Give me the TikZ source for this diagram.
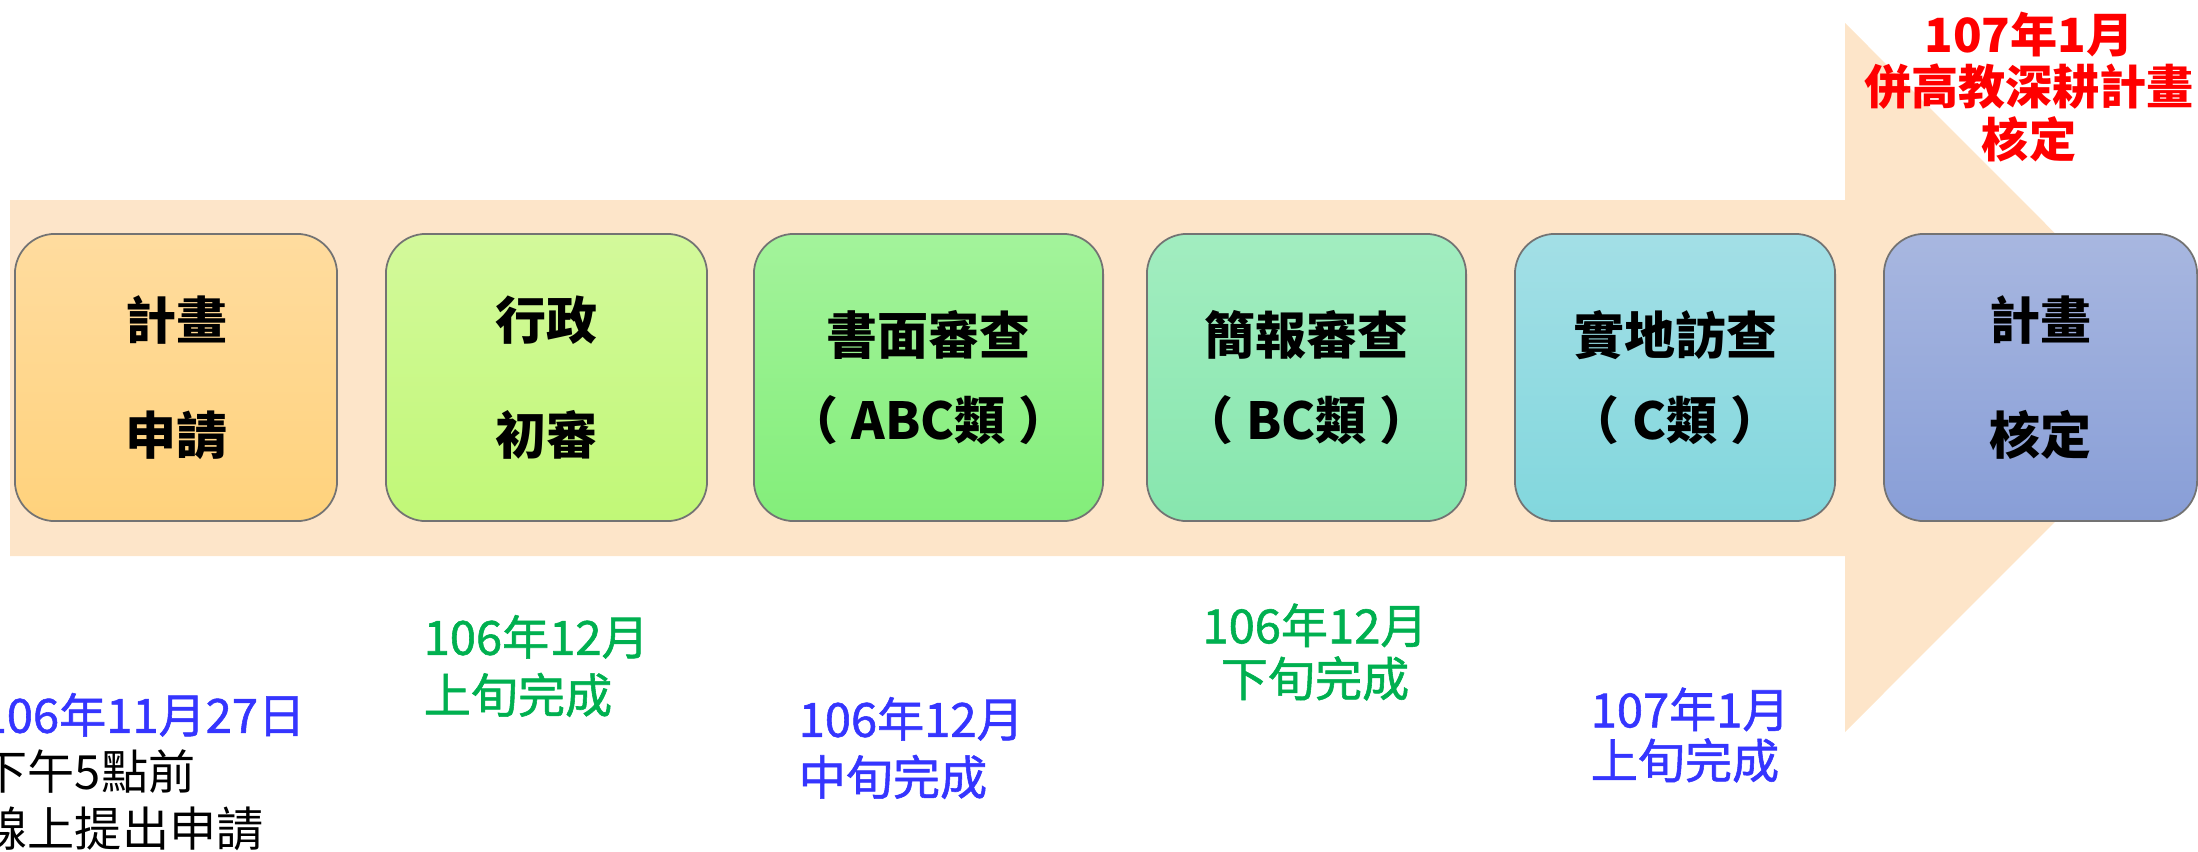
\documentclass[tikz,border=0pt]{standalone}
\usepackage{fontspec}
\setmainfont{Noto Sans CJK TC}
\newfontfamily\cjkmed[FakeBold=1.2]{Noto Sans CJK TC}
\newcommand{\fsz}[2]{\fontsize{#1}{#2}\selectfont}
\newcommand{\pgap}{\hspace{0.25em}}
\definecolor{bandpeach}{HTML}{FDE5C9}
\definecolor{dateblue}{HTML}{3535FF}
\definecolor{dategreen}{HTML}{00B050}
\definecolor{datered}{HTML}{FF0000}
\definecolor{applytop}{HTML}{FFDC9F}
\definecolor{applybot}{HTML}{FFD27C}
\definecolor{admintop}{HTML}{D3F99B}
\definecolor{adminbot}{HTML}{C1F877}
\definecolor{papertop}{HTML}{A3F39B}
\definecolor{paperbot}{HTML}{83EE7A}
\definecolor{brieftop}{HTML}{A2EDC0}
\definecolor{briefbot}{HTML}{87E6AE}
\definecolor{visittop}{HTML}{A3DFE6}
\definecolor{visitbot}{HTML}{82D7DD}
\definecolor{finaltop}{HTML}{A8B7E0}
\definecolor{finalbot}{HTML}{889ED7}
\begin{document}
\begin{tikzpicture}[x=0.01cm, y=-0.01cm,
  stage/.style={draw=black!55, line width=0.5pt, rounded corners=0.4cm,
    minimum height=2.87cm, align=center, inner sep=0pt},
  shortlabel/.style={font=\bfseries\fsz{14.5pt}{32.7pt}},
  longlabel/.style={font=\bfseries\fsz{14.5pt}{24.2pt}},
  datetext/.style={inner sep=0pt, font=\cjkmed\fsz{13.4pt}{#1}}]
\useasboundingbox (0,0) rectangle (2198,851);
\fill[bandpeach] (10,200) -- (1845,200) -- (1845,23) -- (2199,377.5)
      -- (1845,732) -- (1845,556) -- (10,556) -- cycle;
\node[stage, shortlabel, minimum width=3.22cm, top color=applytop, bottom color=applybot]
      (apply) at (176,377.5) {計畫\\申請};
\node[stage, shortlabel, minimum width=3.21cm, top color=admintop, bottom color=adminbot]
      (admin) at (546.5,377.5) {行政\\初審};
\node[stage, longlabel, minimum width=3.49cm, top color=papertop, bottom color=paperbot]
      (paper) at (928.5,377.5) {書面審查\\（\pgap ABC類\pgap ）};
\node[stage, longlabel, minimum width=3.19cm, top color=brieftop, bottom color=briefbot]
      (brief) at (1306.5,377.5) {簡報審查\\（\pgap BC類\pgap ）};
\node[stage, longlabel, minimum width=3.20cm, top color=visittop, bottom color=visitbot]
      (visit) at (1675,377.5) {實地訪查\\（\pgap C類\pgap ）};
\node[stage, shortlabel, minimum width=3.13cm, top color=finaltop, bottom color=finalbot]
      (final) at (2040.5,377.5) {計畫\\核定};
\node[datetext=16.2pt, anchor=west, align=left] (dapply) at (-20,772)
      {{\color{dateblue}106年11月27日}\\{\normalfont 下午5點前}\\{\normalfont 線上提出申請}};
\node[datetext=16.5pt, anchor=west, align=left, text=dategreen] (dadmin) at (423,666)
      {106年12月\\上旬完成};
\node[datetext=16.5pt, anchor=west, align=left, text=dateblue] (dpaper) at (798,748)
      {106年12月\\中旬完成};
\node[datetext=15.1pt, align=center, text=dategreen] (dbrief) at (1315,652)
      {106年12月\\下旬完成};
\node[datetext=14.5pt, anchor=west, align=left, text=dateblue] (dvisit) at (1590,735)
      {107年1月\\上旬完成};
\node[inner sep=0pt, align=center, text=datered, font=\bfseries\fsz{13.4pt}{14.8pt}]
      (dfinal) at (2029,87) {107年1月\\併高教深耕計畫\\核定};
\end{tikzpicture}
\end{document}
